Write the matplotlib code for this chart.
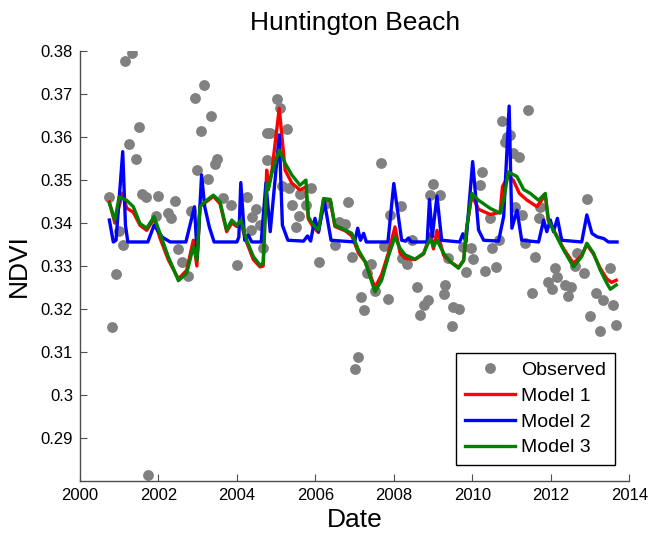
import matplotlib
matplotlib.use("Agg")
from matplotlib import pyplot as plt
from matplotlib.ticker import FuncFormatter
import numpy as np

plt.rcParams['font.family'] = ['Liberation Sans', 'DejaVu Sans']

# observed NDVI (decimal year, value)
obs_t = [2000.75, 2000.82, 2000.92, 2001.00, 2001.09, 2001.16, 2001.25, 2001.33,
         2001.42, 2001.50, 2001.57, 2001.68, 2001.74, 2001.94, 2002.00, 2002.25,
         2002.32, 2002.42, 2002.51, 2002.59, 2002.76, 2002.83, 2002.92, 2002.99,
         2003.09, 2003.16, 2003.26, 2003.33, 2003.43, 2003.50, 2003.64, 2003.84,
         2004.00, 2004.25, 2004.35, 2004.39, 2004.50, 2004.59, 2004.66, 2004.76,
         2004.78, 2004.85, 2005.02, 2005.10, 2005.14, 2005.27, 2005.33, 2005.41,
         2005.50, 2005.59, 2005.61, 2005.76, 2005.89, 2006.10, 2006.29, 2006.49,
         2006.60, 2006.76, 2006.84, 2006.93, 2007.00, 2007.08, 2007.17, 2007.25,
         2007.31, 2007.42, 2007.52, 2007.68, 2007.74, 2007.85, 2007.91, 2008.19,
         2008.22, 2008.33, 2008.46, 2008.58, 2008.67, 2008.78, 2008.86, 2008.93,
         2009.01, 2009.18, 2009.27, 2009.31, 2009.38, 2009.48, 2009.52, 2009.67,
         2009.76, 2009.84, 2009.96, 2010.01, 2010.20, 2010.25, 2010.33, 2010.44,
         2010.50, 2010.61, 2010.69, 2010.75, 2010.84, 2010.88, 2010.97, 2011.05,
         2011.09, 2011.18, 2011.26, 2011.35, 2011.43, 2011.52, 2011.60, 2011.71,
         2011.73, 2011.92, 2012.03, 2012.11, 2012.17, 2012.37, 2012.43, 2012.51,
         2012.62, 2012.67, 2012.84, 2012.92, 2013.01, 2013.16, 2013.26, 2013.33,
         2013.50, 2013.58, 2013.67]
obs_v = [0.3461, 0.3159, 0.3282, 0.3382, 0.3350, 0.3777, 0.3585, 0.3795,
         0.3550, 0.3623, 0.3467, 0.3461, 0.2815, 0.3417, 0.3462, 0.3423,
         0.3411, 0.3452, 0.3339, 0.3310, 0.3277, 0.3427, 0.3692, 0.3523,
         0.3615, 0.3721, 0.3502, 0.3649, 0.3537, 0.3548, 0.3459, 0.3443,
         0.3302, 0.3461, 0.3384, 0.3413, 0.3432, 0.3395, 0.3341, 0.3609,
         0.3547, 0.3610, 0.3688, 0.3667, 0.3486, 0.3618, 0.3481, 0.3442,
         0.3391, 0.3416, 0.3467, 0.3442, 0.3481, 0.3310, 0.3446, 0.3349,
         0.3403, 0.3398, 0.3448, 0.3320, 0.3060, 0.3088, 0.3227, 0.3198,
         0.3283, 0.3305, 0.3243, 0.3539, 0.3347, 0.3223, 0.3419, 0.3440,
         0.3318, 0.3305, 0.3360, 0.3252, 0.3185, 0.3209, 0.3221, 0.3465,
         0.3492, 0.3465, 0.3235, 0.3256, 0.3318, 0.3160, 0.3205, 0.3199,
         0.3345, 0.3287, 0.3341, 0.3316, 0.3488, 0.3519, 0.3289, 0.3411,
         0.3341, 0.3298, 0.3360, 0.3638, 0.3589, 0.3601, 0.3605, 0.3562,
         0.3438, 0.3553, 0.3419, 0.3353, 0.3663, 0.3238, 0.3320, 0.3411,
         0.3438, 0.3263, 0.3246, 0.3295, 0.3274, 0.3257, 0.3230, 0.3251,
         0.3300, 0.3330, 0.3284, 0.3455, 0.3184, 0.3238, 0.3150, 0.3221,
         0.3295, 0.3209, 0.3163]

# Model 1
m1_t = [2000.75, 2000.89, 2001.00, 2001.09, 2001.19, 2001.36, 2001.53, 2001.70,
        2001.89, 2002.04, 2002.25, 2002.51, 2002.72, 2002.89, 2002.98, 2003.06,
        2003.23, 2003.40, 2003.57, 2003.74, 2003.87, 2004.00, 2004.10, 2004.25,
        2004.42, 2004.59, 2004.67, 2004.76, 2004.80, 2004.89, 2005.08, 2005.23,
        2005.40, 2005.61, 2005.76, 2005.82, 2005.95, 2006.08, 2006.21, 2006.38,
        2006.50, 2006.76, 2006.93, 2007.10, 2007.27, 2007.52, 2007.69, 2007.86,
        2008.03, 2008.16, 2008.29, 2008.54, 2008.76, 2008.93, 2009.01, 2009.10,
        2009.27, 2009.44, 2009.65, 2009.78, 2009.86, 2009.99, 2010.16, 2010.46,
        2010.71, 2010.77, 2010.92, 2011.05, 2011.20, 2011.40, 2011.65, 2011.86,
        2011.94, 2012.11, 2012.33, 2012.58, 2012.79, 2012.92, 2013.09, 2013.26,
        2013.43, 2013.55, 2013.67]
m1_v = [0.3449, 0.3400, 0.3440, 0.3470, 0.3435, 0.3425, 0.3395, 0.3383,
        0.3410, 0.3365, 0.3315, 0.3270, 0.3290, 0.3360, 0.3300, 0.3440,
        0.3450, 0.3462, 0.3445, 0.3380, 0.3400, 0.3392, 0.3400, 0.3355,
        0.3315, 0.3298, 0.3300, 0.3523, 0.3480, 0.3520, 0.3667, 0.3523,
        0.3493, 0.3477, 0.3484, 0.3410, 0.3390, 0.3378, 0.3455, 0.3452,
        0.3392, 0.3382, 0.3370, 0.3330, 0.3310, 0.3250, 0.3280, 0.3330,
        0.3391, 0.3330, 0.3318, 0.3315, 0.3328, 0.3375, 0.3340, 0.3383,
        0.3325, 0.3310, 0.3297, 0.3312, 0.3390, 0.3465, 0.3432, 0.3420,
        0.3425, 0.3485, 0.3510, 0.3499, 0.3469, 0.3453, 0.3438, 0.3465,
        0.3405, 0.3378, 0.3340, 0.3306, 0.3325, 0.3350, 0.3328, 0.3295,
        0.3270, 0.3262, 0.3267]

# Model 2
m2_t = [2000.75, 2000.85, 2000.92, 2001.09, 2001.16, 2001.22, 2001.73, 2001.89,
        2002.10, 2002.30, 2002.70, 2002.92, 2002.99, 2003.10, 2003.18, 2003.30,
        2003.42, 2004.00, 2004.05, 2004.10, 2004.20, 2004.29, 2004.38, 2004.62,
        2004.74, 2004.85, 2005.08, 2005.16, 2005.30, 2005.70, 2005.80, 2005.88,
        2005.99, 2006.08, 2006.23, 2006.40, 2007.00, 2007.08, 2007.15, 2007.23,
        2007.30, 2007.85, 2008.00, 2008.20, 2008.30, 2008.37, 2008.45, 2008.85,
        2008.91, 2008.98, 2009.10, 2009.22, 2009.68, 2009.76, 2009.84, 2010.01,
        2010.16, 2010.29, 2010.67, 2010.80, 2010.94, 2011.01, 2011.14, 2011.26,
        2011.69, 2011.82, 2011.90, 2011.99, 2012.07, 2012.17, 2012.28, 2012.79,
        2012.92, 2013.05, 2013.18, 2013.35, 2013.47, 2013.69]
m2_v = [0.3407, 0.3356, 0.3360, 0.3566, 0.3395, 0.3356, 0.3356, 0.3395,
        0.3367, 0.3356, 0.3356, 0.3438, 0.3321, 0.3512, 0.3438, 0.3390,
        0.3356, 0.3356, 0.3367, 0.3494, 0.3360, 0.3372, 0.3356, 0.3356,
        0.3493, 0.3380, 0.3605, 0.3395, 0.3360, 0.3358, 0.3370, 0.3358,
        0.3411, 0.3380, 0.3450, 0.3360, 0.3356, 0.3388, 0.3360, 0.3376,
        0.3356, 0.3356, 0.3492, 0.3360, 0.3358, 0.3365, 0.3356, 0.3356,
        0.3455, 0.3368, 0.3463, 0.3360, 0.3356, 0.3375, 0.3356, 0.3543,
        0.3384, 0.3360, 0.3358, 0.3415, 0.3672, 0.3388, 0.3430, 0.3360,
        0.3356, 0.3407, 0.3380, 0.3407, 0.3380, 0.3411, 0.3360, 0.3356,
        0.3419, 0.3376, 0.3368, 0.3364, 0.3356, 0.3356]

# Model 3
m3_t = [2000.75, 2000.89, 2001.00, 2001.19, 2001.36, 2001.53, 2001.70, 2001.89,
        2002.04, 2002.25, 2002.51, 2002.72, 2002.89, 2002.98, 2003.06, 2003.23,
        2003.40, 2003.57, 2003.74, 2003.87, 2004.00, 2004.10, 2004.25, 2004.42,
        2004.59, 2004.67, 2004.76, 2004.80, 2004.89, 2005.08, 2005.23, 2005.40,
        2005.61, 2005.76, 2005.82, 2005.95, 2006.08, 2006.21, 2006.38, 2006.50,
        2006.76, 2006.93, 2007.10, 2007.27, 2007.52, 2007.69, 2007.86, 2008.03,
        2008.16, 2008.29, 2008.54, 2008.76, 2008.93, 2009.01, 2009.10, 2009.27,
        2009.44, 2009.65, 2009.78, 2009.86, 2009.99, 2010.16, 2010.46, 2010.71,
        2010.80, 2010.92, 2011.14, 2011.31, 2011.48, 2011.69, 2011.86, 2011.94,
        2012.11, 2012.33, 2012.58, 2012.79, 2012.92, 2013.09, 2013.26, 2013.43,
        2013.52, 2013.67]
m3_v = [0.3446, 0.3407, 0.3461, 0.3453, 0.3438, 0.3399, 0.3388, 0.3415,
        0.3376, 0.3322, 0.3266, 0.3283, 0.3345, 0.3314, 0.3438, 0.3453,
        0.3465, 0.3450, 0.3384, 0.3407, 0.3395, 0.3407, 0.3360, 0.3322,
        0.3302, 0.3306, 0.3492, 0.3477, 0.3516, 0.3570, 0.3539, 0.3512,
        0.3488, 0.3500, 0.3415, 0.3395, 0.3384, 0.3457, 0.3455, 0.3395,
        0.3384, 0.3376, 0.3337, 0.3310, 0.3240, 0.3267, 0.3322, 0.3368,
        0.3341, 0.3326, 0.3316, 0.3330, 0.3364, 0.3345, 0.3360, 0.3330,
        0.3310, 0.3295, 0.3314, 0.3391, 0.3469, 0.3453, 0.3434, 0.3423,
        0.3453, 0.3519, 0.3508, 0.3478, 0.3469, 0.3453, 0.3469, 0.3407,
        0.3376, 0.3337, 0.3298, 0.3322, 0.3353, 0.3330, 0.3291, 0.3260,
        0.3246, 0.3256]

year_ticks = [2000, 2002, 2004, 2006, 2008, 2010, 2012, 2014]
ndvi_ticks = [0.29, 0.30, 0.31, 0.32, 0.33, 0.34, 0.35, 0.36, 0.37, 0.38]

fig = plt.figure(figsize=(6.5, 5.38), dpi=100)
ax = fig.add_axes([0.123, 0.106, 0.845, 0.799])

ax.plot(obs_t, obs_v, 'o', color=(0.5, 0.5, 0.5), markersize=7.8,
        markeredgewidth=0, label='Observed')
ax.plot(m1_t, m1_v, '-', color='#ff0000', linewidth=2.4, label='Model 1')
ax.plot(m2_t, m2_v, '-', color='#0000ff', linewidth=2.4, label='Model 2')
ax.plot(m3_t, m3_v, '-', color='#008000', linewidth=2.4, label='Model 3')

ax.set_xlim(2000, 2014)
ax.set_ylim(0.28, 0.38)
ax.set_xticks(year_ticks)
ax.set_yticks(ndvi_ticks)
ax.yaxis.set_major_formatter(FuncFormatter(lambda v, p: '%g' % round(v, 2)))

for side in ['top', 'right']:
    ax.spines[side].set_visible(False)
for side in ['left', 'bottom']:
    ax.spines[side].set_color('0.3')
    ax.spines[side].set_linewidth(1.0)
ax.tick_params(direction='in', length=5, width=0.8, color='0.3',
               labelsize=12, pad=5)

ax.set_title('Huntington Beach', fontsize=19, pad=15)
ax.set_xlabel('Date', fontsize=19, labelpad=4)
ax.set_ylabel('NDVI', fontsize=19, labelpad=7)

leg = ax.legend(loc='lower right', bbox_to_anchor=(0.974, 0.037),
                fontsize=14, numpoints=1, fancybox=False, framealpha=1,
                edgecolor='black', handlelength=2.6, handletextpad=0.3,
                labelspacing=0.42, borderpad=0.45, borderaxespad=0)
leg.get_frame().set_linewidth(1.0)

plt.savefig('out.png', dpi=100)
